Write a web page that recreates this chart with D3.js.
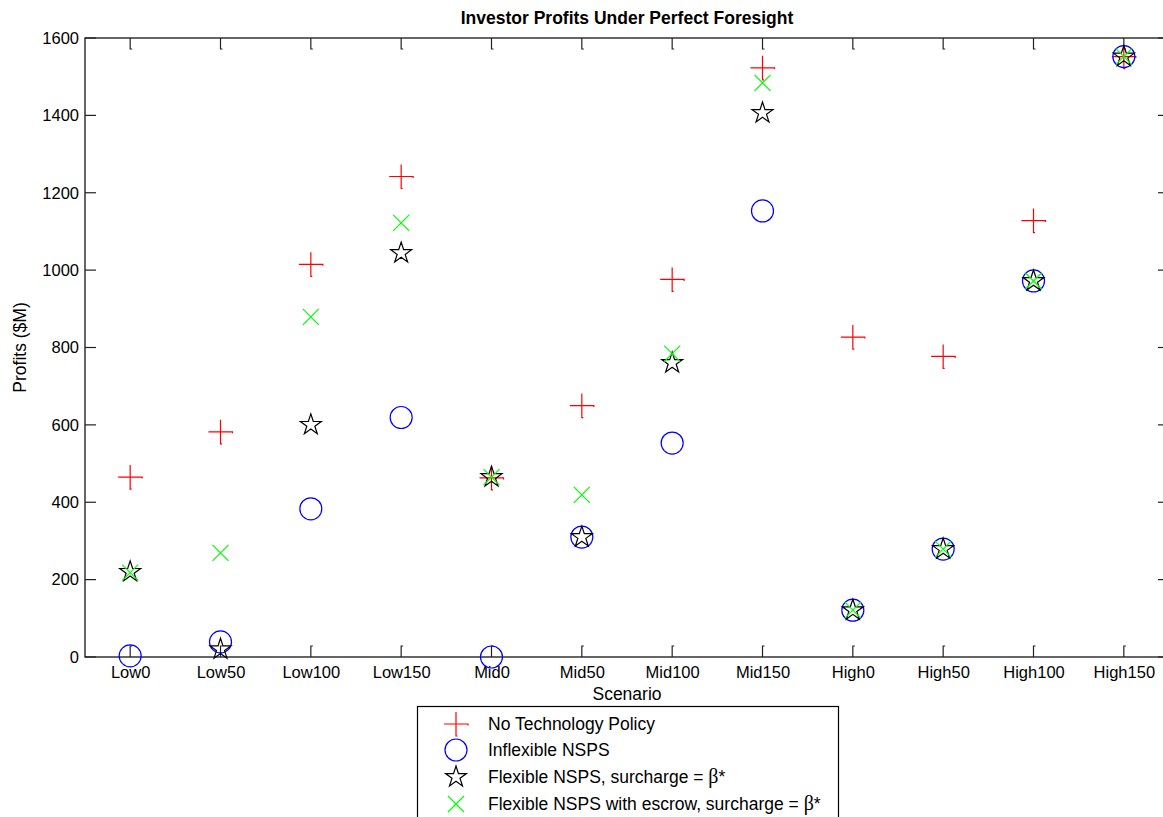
<!DOCTYPE html>
<html>
<head>
<meta charset="utf-8">
<script src="https://cdn.jsdelivr.net/npm/d3@7"></script>
<style>
  html, body { margin: 0; padding: 0; background: #fff; }
  svg { display: block; font-family: "Liberation Sans", Arial, sans-serif; }
</style>
</head>
<body>
<svg id="chart" width="1163" height="817"></svg>
<script>
// Scenario categories along the x axis
const categories = ["Low0", "Low50", "Low100", "Low150", "Mid0", "Mid50",
                    "Mid100", "Mid150", "High0", "High50", "High100", "High150"];
// Investor profits ($M) per policy
const noTechPolicy   = [465, 582, 1015, 1242, 463, 650, 976, 1523, 827, 777, 1128, 1552];
const inflexibleNSPS = [3, 39, 383, 619, 0, 310, 553, 1153, 121, 279, 972, 1552];
const flexibleNSPS   = [220, 20, 600, 1044, 465, 310, 760, 1406, 121, 279, 972, 1552];
const escrowNSPS     = [218, 269, 879, 1122, 465, 419, 784, 1484, 121, 279, 972, 1552];
const yTicks = [0, 200, 400, 600, 800, 1000, 1200, 1400, 1600];

const seriesNames = ["No Technology Policy", "Inflexible NSPS",
                     "Flexible NSPS, surcharge = ", "Flexible NSPS with escrow, surcharge = "];

const svg = d3.select("#chart");
const plotL = 85, plotR = 1169, plotT = 38, plotB = 657;

const x = d3.scaleLinear().domain([0.5, categories.length + 0.5]).range([plotL, plotR]);
const y = d3.scaleLinear().domain([0, 1600]).range([plotB, plotT]);

// Marker shapes
const plusPath = "M-12,0H12v1.5M0,-12V12h1.5";
const xPath = "M-8,-8L8,8M-8,8L8,-8";
function starPath(R) {
  const r = R * 0.382;
  const pts = [];
  for (let i = 0; i < 10; i++) {
    const a = -Math.PI / 2 + i * Math.PI / 5;
    const rad = i % 2 === 0 ? R : r;
    pts.push([rad * Math.cos(a), rad * Math.sin(a)]);
  }
  return "M" + pts.map(p => p[0].toFixed(2) + "," + p[1].toFixed(2)).join("L") + "Z";
}
const star = starPath(11);

const markers = [
  { values: noTechPolicy, draw: g => g.append("path").attr("d", plusPath).attr("stroke", "#ff0000") },
  { values: inflexibleNSPS, draw: g => g.append("circle").attr("r", 11).attr("stroke", "#0000ff") },
  { values: flexibleNSPS, draw: g => g.append("path").attr("d", star).attr("stroke", "#000000") },
  { values: escrowNSPS, draw: g => g.append("path").attr("d", xPath).attr("stroke", "#00ff00") }
];

// Axes box
svg.append("rect").attr("x", plotL).attr("y", plotT)
  .attr("width", plotR - plotL).attr("height", plotB - plotT)
  .attr("fill", "none").attr("stroke", "#000").attr("stroke-width", 1.2);

// Y axis labels, with ticks on both sides pointing inwards
const yAxisL = d3.axisLeft(y).tickValues(yTicks).tickFormat(d3.format("d"))
  .tickSize(0).tickPadding(6);
const gy = svg.append("g").attr("transform", `translate(${plotL},0)`).call(yAxisL);
gy.select(".domain").remove();
gy.selectAll("text").attr("font-size", "16.5px").attr("fill", "#000")
  .attr("font-family", "Liberation Sans, Arial, sans-serif");
svg.append("g").selectAll("line").data(yTicks).join("line")
  .attr("x1", plotL).attr("x2", plotL + 11)
  .attr("y1", d => y(d)).attr("y2", d => y(d))
  .attr("stroke", "#222").attr("stroke-width", 1.2);
svg.append("g").selectAll("line").data(yTicks).join("line")
  .attr("x1", plotR).attr("x2", plotR - 11)
  .attr("y1", d => y(d)).attr("y2", d => y(d))
  .attr("stroke", "#222").attr("stroke-width", 1.2);

// X axis labels, with ticks on bottom and top pointing inwards
const idx = d3.range(1, categories.length + 1);
const xAxisB = d3.axisBottom(x).tickValues(idx)
  .tickFormat(d => categories[d - 1]).tickSize(0).tickPadding(9);
const gx = svg.append("g").attr("transform", `translate(0,${plotB})`).call(xAxisB);
gx.select(".domain").remove();
gx.selectAll("text").attr("font-size", "16.5px").attr("fill", "#000")
  .attr("font-family", "Liberation Sans, Arial, sans-serif");
svg.append("g").selectAll("path").data(idx).join("path")
  .attr("d", d => `M${x(d)},${plotB}V${plotB - 11}h2`)
  .attr("fill", "none").attr("stroke", "#222").attr("stroke-width", 1.2);
svg.append("g").selectAll("path").data(idx).join("path")
  .attr("d", d => `M${x(d)},${plotT}V${plotT + 11}h2`)
  .attr("fill", "none").attr("stroke", "#222").attr("stroke-width", 1.2);

// Data markers
markers.forEach(m => {
  const g = svg.append("g");
  m.values.forEach((v, i) => {
    const mg = g.append("g")
      .attr("transform", `translate(${x(i + 1)},${y(v)})`)
      .attr("fill", "none").attr("stroke-width", 1.2);
    m.draw(mg);
  });
});

// Titles
svg.append("text").attr("x", (plotL + plotR) / 2).attr("y", 24)
  .attr("text-anchor", "middle").attr("font-size", "17.5px").attr("font-weight", "bold")
  .text("Investor Profits Under Perfect Foresight");
svg.append("text").attr("x", (plotL + plotR) / 2).attr("y", 700)
  .attr("text-anchor", "middle").attr("font-size", "17.5px")
  .text("Scenario");
svg.append("text").attr("transform", `translate(26,${(plotT + plotB) / 2}) rotate(-90)`)
  .attr("text-anchor", "middle").attr("font-size", "17.5px")
  .text("Profits ($M)");

// Legend
const lg = svg.append("g");
lg.append("rect").attr("x", 417.5).attr("y", 706.5).attr("width", 421).attr("height", 140)
  .attr("fill", "#fff").attr("stroke", "#000").attr("stroke-width", 1.2);
const rowY = [724, 750, 777, 804];
markers.forEach((m, i) => {
  const mg = lg.append("g").attr("transform", `translate(456,${rowY[i]})`)
    .attr("fill", "none").attr("stroke-width", 1.2);
  m.draw(mg);
  const t = lg.append("text").attr("x", 488).attr("y", rowY[i] + 6)
    .attr("font-size", "17.5px").text(seriesNames[i]);
  if (i >= 2) {
    t.append("tspan").attr("font-family", "Liberation Serif, Times New Roman, serif")
      .attr("font-size", "20px").text("β");
    t.append("tspan").text("*");
  }
});
</script>
</body>
</html>
